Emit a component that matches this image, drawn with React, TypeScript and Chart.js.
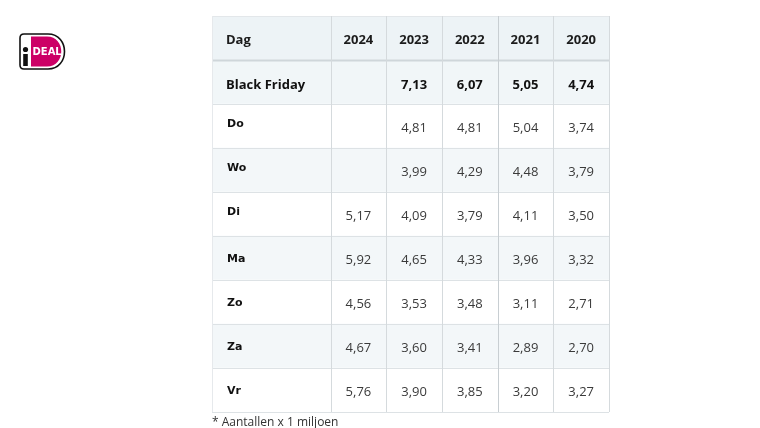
import React, { useEffect, useRef } from "react";
import { Chart, registerables } from "chart.js";

Chart.register(...registerables);

const headerLabel = "Dag";
const years = ["2024", "2023", "2022", "2021", "2020"];
const days = ["Black Friday", "Do", "Wo", "Di", "Ma", "Zo", "Za", "Vr"];
const v2024 = [null, null, null, 5.17, 5.92, 4.56, 4.67, 5.76];
const v2023 = [7.13, 4.81, 3.99, 4.09, 4.65, 3.53, 3.6, 3.9];
const v2022 = [6.07, 4.81, 4.29, 3.79, 4.33, 3.48, 3.41, 3.85];
const v2021 = [5.05, 5.04, 4.48, 4.11, 3.96, 3.11, 2.89, 3.2];
const v2020 = [4.74, 3.74, 3.79, 3.5, 3.32, 2.71, 2.7, 3.27];
const footnote = "* Aantallen x 1 miljoen";

const series = [v2024, v2023, v2022, v2021, v2020];
const FIRST_COL = 2.13; // width of the label column in year-column units
const TOTAL = FIRST_COL + years.length;

const fmt = (v: number | null) => (v == null ? "" : v.toFixed(2).replace(".", ","));

const rowColors = [
  "#edf3f6", // header
  "#f1f6f8",
  "#ffffff",
  "#f3f7f9",
  "#ffffff",
  "#f3f7f9",
  "#ffffff",
  "#f3f7f9",
  "#ffffff",
];

const tablePlugin = {
  id: "tableText",
  afterDatasetsDraw(chart: any) {
    const ctx = chart.ctx as CanvasRenderingContext2D;
    const xs = chart.scales.x;
    const meta = chart.getDatasetMeta(0);
    const bars = meta.data as any[];
    const edges = [0, FIRST_COL];
    for (let i = 1; i <= years.length; i++) edges.push(FIRST_COL + i);
    const ex = edges.map((e) => xs.getPixelForValue(e));
    const top = bars[0].y - bars[0].height / 2;
    const bottom = bars[bars.length - 1].y + bars[bars.length - 1].height / 2;
    ctx.save();
    // horizontal lines
    bars.forEach((b, i) => {
      const yb = Math.round(b.y + b.height / 2) + 0.5;
      ctx.strokeStyle = i === 0 ? "#cfd6da" : "#dde2e5";
      ctx.lineWidth = i === 0 ? 2 : 1;
      ctx.beginPath();
      ctx.moveTo(ex[0], yb);
      ctx.lineTo(ex[ex.length - 1], yb);
      ctx.stroke();
    });
    ctx.strokeStyle = "#e3e7ea";
    ctx.lineWidth = 1;
    ctx.beginPath();
    ctx.moveTo(ex[0], Math.round(top) + 0.5);
    ctx.lineTo(ex[ex.length - 1], Math.round(top) + 0.5);
    ctx.stroke();
    // vertical lines
    ex.forEach((x, i) => {
      const xx = Math.round(x) + 0.5;
      ctx.strokeStyle = i === 4 ? "#c8ced2" : i === 0 ? "#e6e9ec" : "#d5dadd";
      ctx.lineWidth = 1;
      ctx.beginPath();
      ctx.moveTo(xx, top);
      ctx.lineTo(xx, bottom);
      ctx.stroke();
    });
    // header text
    ctx.fillStyle = "#1c1c1c";
    ctx.textBaseline = "middle";
    ctx.font = "bold 13px 'Open Sans', sans-serif";
    ctx.textAlign = "left";
    ctx.fillText(headerLabel, ex[0] + 14, bars[0].y + 2);
    ctx.textAlign = "center";
    years.forEach((y, j) => {
      ctx.fillText(y, (ex[j + 1] + ex[j + 2]) / 2, bars[0].y + 2);
    });
    // rows
    days.forEach((d, i) => {
      const b = bars[i + 1];
      const bold = i === 0;
      ctx.textAlign = "left";
      ctx.fillStyle = "#111";
      if (bold) {
        ctx.font = "bold 13px 'Open Sans', sans-serif";
        ctx.fillText(d, ex[0] + 14, b.y + 3);
      } else {
        ctx.font = "bold 11px 'DejaVu Sans', sans-serif";
        ctx.fillText(d, ex[0] + 15, b.y - (i <= 3 ? 2 : -1));
      }
      ctx.textAlign = "center";
      ctx.font = bold ? "bold 13px 'Open Sans', sans-serif" : "13px 'Open Sans', sans-serif";
      ctx.fillStyle = bold ? "#111" : "#3a3a3a";
      series.forEach((s, j) => {
        ctx.fillText(fmt(s[i]), (ex[j + 1] + ex[j + 2]) / 2, b.y + (bold ? 3 : 2));
      });
    });
    // footnote
    ctx.textAlign = "left";
    ctx.textBaseline = "middle";
    ctx.fillStyle = "#333";
    ctx.font = "12px 'Open Sans', sans-serif";
    ctx.fillText(footnote, ex[0], bottom + 11);
    ctx.restore();
  },
  afterDraw(chart: any) {
    // iDEAL logo
    const ctx = chart.ctx as CanvasRenderingContext2D;
    ctx.save();
    ctx.lineWidth = 1.6;
    ctx.strokeStyle = "#111";
    ctx.fillStyle = "#fff";
    ctx.beginPath();
    ctx.moveTo(24, 34);
    ctx.lineTo(48, 34);
    ctx.bezierCurveTo(70, 34, 70, 69, 48, 69);
    ctx.lineTo(24, 69);
    ctx.quadraticCurveTo(20, 69, 20, 65);
    ctx.lineTo(20, 38);
    ctx.quadraticCurveTo(20, 34, 24, 34);
    ctx.closePath();
    ctx.fill();
    ctx.stroke();
    ctx.fillStyle = "#cc0066";
    ctx.beginPath();
    ctx.moveTo(31, 36.5);
    ctx.lineTo(47, 36.5);
    ctx.bezierCurveTo(66, 36.5, 66, 66.5, 47, 66.5);
    ctx.lineTo(31, 66.5);
    ctx.closePath();
    ctx.fill();
    ctx.fillStyle = "#111";
    ctx.beginPath();
    ctx.arc(25.5, 49.5, 2.6, 0, Math.PI * 2);
    ctx.fill();
    ctx.fillRect(23.2, 54, 4.6, 12);
    ctx.fillStyle = "#fff";
    ctx.font = "bold 10px 'DejaVu Sans', sans-serif";
    ctx.textAlign = "left";
    ctx.textBaseline = "middle";
    ctx.fillText("DEAL", 32.5, 52);
    ctx.restore();
  },
};

export default function App() {
  const ref = useRef<HTMLCanvasElement | null>(null);
  useEffect(() => {
    if (!ref.current) return;
    const labels = [headerLabel, ...days];
    const chart = new Chart(ref.current, {
      type: "bar",
      data: {
        labels,
        datasets: [
          {
            data: labels.map(() => [0, TOTAL]) as any,
            backgroundColor: rowColors,
            borderWidth: 0,
            barPercentage: 1,
            categoryPercentage: 1,
          },
        ],
      },
      options: {
        indexAxis: "y",
        animation: false,
        responsive: false,
        layout: { padding: { left: 212, right: 151, top: 16, bottom: 16 } },
        plugins: { legend: { display: false }, tooltip: { enabled: false } },
        scales: {
          x: { type: "linear", min: 0, max: TOTAL, display: false },
          y: { type: "category", display: false, offset: true },
        },
      },
      plugins: [tablePlugin],
    });
    return () => chart.destroy();
  }, []);
  return (
    <div style={{ position: "fixed", left: 0, top: 0, width: 760, height: 428, background: "#fff" }}>
      <canvas ref={ref} width={760} height={428} />
    </div>
  );
}
